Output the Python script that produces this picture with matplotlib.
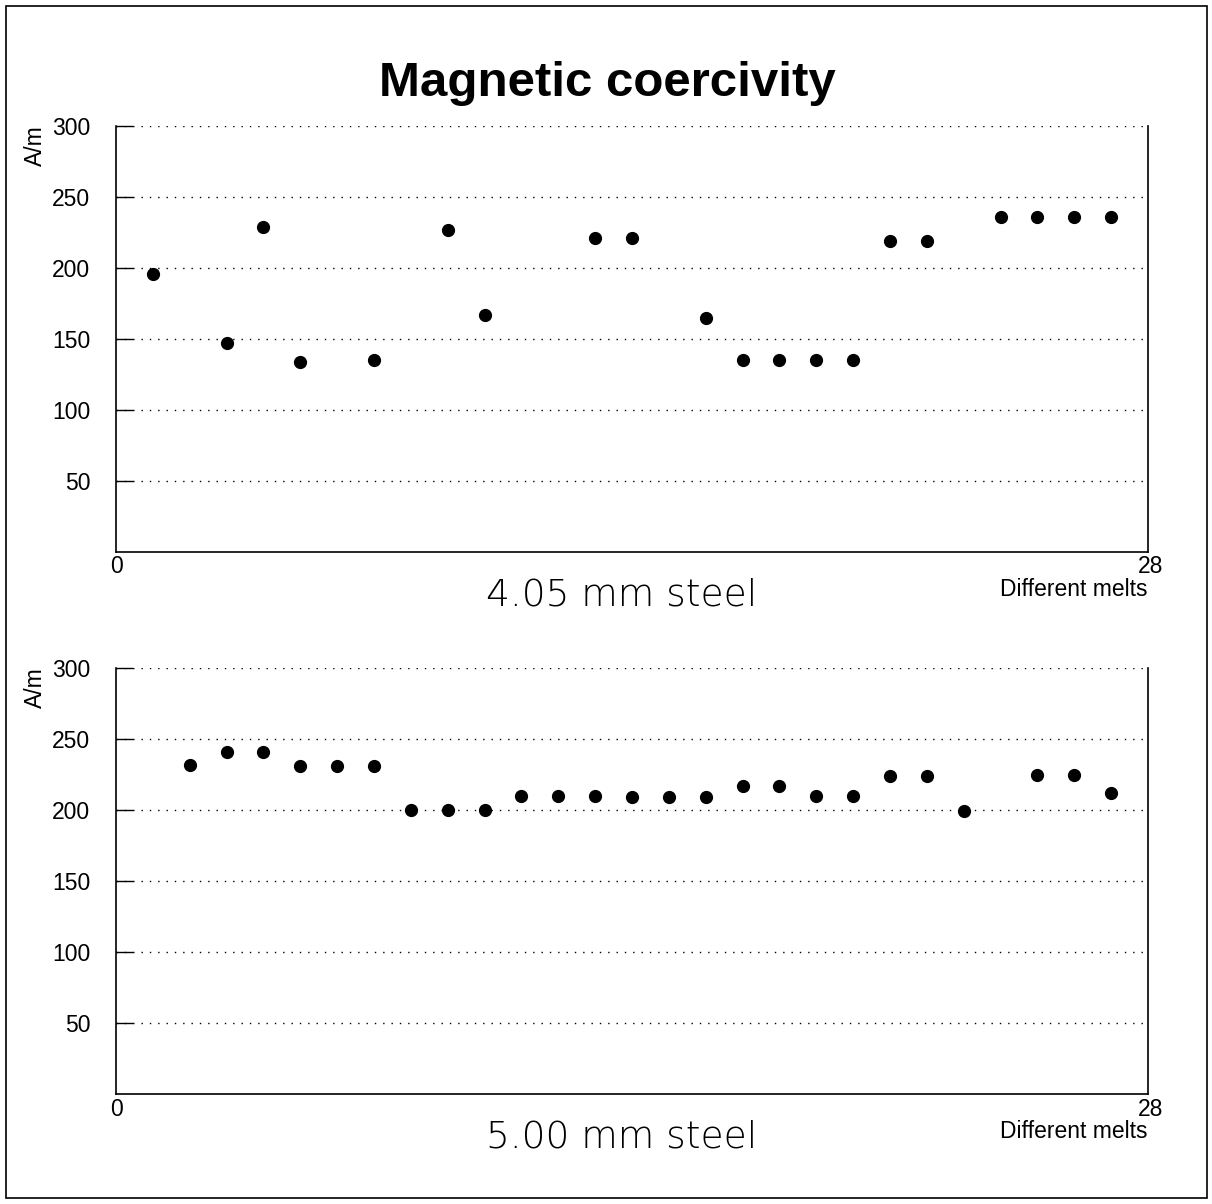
import numpy as np
import matplotlib
matplotlib.use("Agg")
import matplotlib.pyplot as plt
from matplotlib.patches import Rectangle

plt.rcParams['font.family'] = ['Liberation Sans', 'DejaVu Sans']

# melt number and coercivity (A/m) for each sheet thickness
melts_405 = [1, 3, 4, 5, 7, 9, 10, 13, 14, 16, 17, 18, 19, 20, 21, 22, 24, 25, 26, 27]
hc_405 = [196, 147, 229, 134, 135, 227, 167, 221, 221, 165, 135, 135, 135, 135,
          219, 219, 236, 236, 236, 236]

melts_500 = [2, 3, 4, 5, 6, 7, 8, 9, 10, 11, 12, 13, 14, 15, 16, 17, 18, 19, 20,
             21, 22, 23, 25, 26, 27]
hc_500 = [232, 241, 241, 231, 231, 231, 200, 200, 200, 210, 210, 210, 209, 209, 209,
          217, 217, 210, 210, 224, 224, 199, 225, 225, 212]

y_ticks = [50, 100, 150, 200, 250, 300]
panels = [("4.05 mm steel", melts_405, hc_405),
          ("5.00 mm steel", melts_500, hc_500)]

W, H = 1212, 1204
fig = plt.figure(figsize=(W / 100, H / 100), dpi=100)

# frame around the whole page
fig.patches.append(Rectangle((6 / W, 6 / H), 1201 / W, 1192 / H, transform=fig.transFigure,
                             fill=False, edgecolor='black', linewidth=1.2))

fig.text(607 / W, 1 - 83 / H, "Magnetic coercivity", ha='center', va='center',
         fontsize=35.5, fontweight='bold')

lbl = 16.5
tops = [126, 668]
for (name, xs, ys), top in zip(panels, tops):
    left, right, bottom = 116, 1148, top + 426
    ax = fig.add_axes([left / W, 1 - bottom / H, (right - left) / W, (bottom - top) / H])
    ax.plot(xs, ys, 'o', color='black', markersize=8.5)
    ax.set_xlim(0, 28)
    ax.set_ylim(0, 300)
    ax.set_yticks(y_ticks)
    ax.set_xticks([])
    for y in y_ticks:
        ax.axhline(y, color='black', linestyle=(0, (1, 5)), linewidth=1.0, zorder=0)
    ax.tick_params(axis='y', direction='in', length=12, width=1.0, labelsize=lbl, pad=18.5)
    ax.spines['top'].set_visible(False)
    for s in ['left', 'right', 'bottom']:
        ax.spines[s].set_linewidth(1.2)

    fig.text(116 / W, 1 - (top + 441) / H, "0", ha='center', va='center', fontsize=lbl)
    fig.text(1163 / W, 1 - (top + 441) / H, "28", ha='right', va='center', fontsize=lbl)
    fig.text(1148 / W, 1 - (top + 463) / H, "Different melts", ha='right', va='center', fontsize=lbl)
    fig.text(35 / W, 1 - (top + 20) / H, "A/m", rotation=90, ha='center', va='center', fontsize=lbl)
    # thin subtitle under each panel
    fig.text(622 / W, 1 - (top + 480) / H, name, ha='center', va='baseline', fontsize=27,
             family='DejaVu Sans', fontweight='ultralight', color='black')

fig.savefig("out.png", dpi=100)
